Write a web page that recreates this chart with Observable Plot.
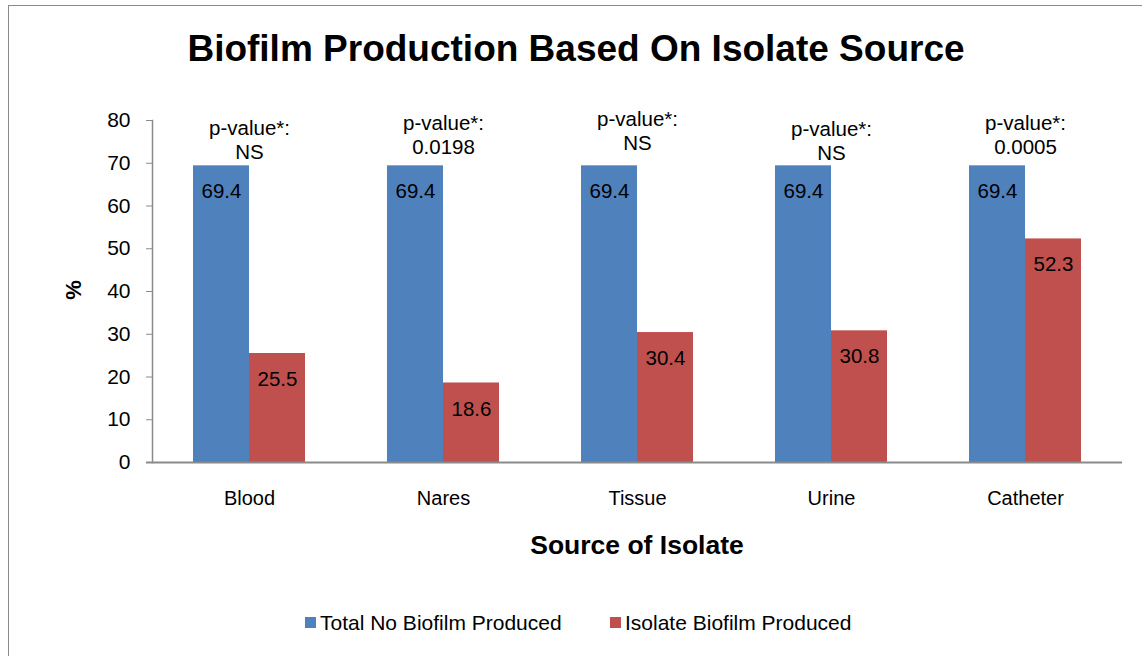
<!DOCTYPE html>
<html><head><meta charset="utf-8">
<script src="https://cdn.jsdelivr.net/npm/d3@7"></script>
<script src="https://cdn.jsdelivr.net/npm/@observablehq/plot@0.6"></script>
<style>
body{margin:0;background:#fff;font-family:"Liberation Sans",Arial,sans-serif;color:#000;width:1142px;height:656px;overflow:hidden;position:relative;}
#frame{position:absolute;left:8px;top:5px;width:1150px;height:670px;border:1.5px solid #8a8a8a;box-sizing:border-box;}
#title{position:absolute;left:8px;width:1136px;top:30px;text-align:center;font-weight:bold;font-size:37px;line-height:37px;white-space:nowrap;}
#chart{position:absolute;left:0;top:100px;}
#xtitle{position:absolute;left:437px;width:400px;top:532px;text-align:center;font-weight:bold;font-size:26.5px;line-height:26.5px;}
#ytitle{position:absolute;left:44px;width:60px;top:279px;text-align:center;font-weight:bold;font-size:22px;line-height:22px;transform:rotate(-90deg);}
.leg{position:absolute;top:612px;font-size:21px;line-height:21px;white-space:nowrap;}
.sw{position:absolute;width:11px;height:11px;top:617px;}
</style></head><body>
<div id="frame"></div>
<div id="title">Biofilm Production Based On Isolate Source</div>
<div id="chart"></div>
<div id="xtitle">Source of Isolate</div>
<div id="ytitle">%</div>
<div id="legend"></div>
<script>
const categories = ["Blood", "Nares", "Tissue", "Urine", "Catheter"];
const seriesNames = ["Total No Biofilm Produced", "Isolate Biofilm Produced"];
const noBiofilm = [69.4, 69.4, 69.4, 69.4, 69.4];
const biofilm = [25.5, 18.6, 30.4, 30.8, 52.3];
const pValues = ["NS", "0.0198", "NS", "NS", "0.0005"];
const yTicks = [0, 10, 20, 30, 40, 50, 60, 70, 80];
const seriesColors = ["#4F81BD", "#C0504D"];

// annotation placement (data units) for the p-value labels
const pLabelY = [75.6, 76.7, 77.7, 75.4, 76.7];

const rowsA = categories.map((c, i) => ({category: c, series: seriesNames[0], value: noBiofilm[i]}));
const rowsB = categories.map((c, i) => ({category: c, series: seriesNames[1], value: biofilm[i]}));
const pRows = categories.map((c, i) => ({category: c, text: "p-value*:\n" + pValues[i], y: pLabelY[i]}));

const font = "'Liberation Sans', Arial, sans-serif";

const chart = Plot.plot({
  width: 1142,
  height: 462,
  marginTop: 20,
  marginBottom: 100,
  marginLeft: 152,
  marginRight: 20,
  style: {fontFamily: font, background: "transparent", color: "#000", overflow: "visible"},
  x: {domain: categories, padding: 0, label: null},
  y: {domain: [0, 80], label: null},
  color: {domain: seriesNames, range: seriesColors},
  marks: [
    Plot.barY(rowsA, {x: "category", y: "value", fill: "series", insetLeft: 41, insetRight: 97}),
    Plot.barY(rowsB, {x: "category", y: "value", fill: "series", insetLeft: 97, insetRight: 41}),
    Plot.text(rowsA, {x: "category", y: "value", text: d => d.value.toFixed(1), dx: -28, dy: 26, fontSize: 20.5, fill: "#000"}),
    Plot.text(rowsB, {x: "category", y: "value", text: d => d.value.toFixed(1), dx: 28, dy: 26, fontSize: 20.5, fill: "#000"}),
    Plot.text(pRows, {x: "category", y: "y", text: "text", fontSize: 20.5, lineHeight: 1.17, fill: "#000"}),
    Plot.axisY({ticks: yTicks, tickSize: 6, tickPadding: 16, fontSize: 21, stroke: "#8a8a8a", fill: "#000", label: null}),
    Plot.frame({anchor: "left", stroke: "#8a8a8a", strokeWidth: 1.5}),
    Plot.ruleY([0], {stroke: "#8a8a8a", strokeWidth: 2, insetLeft: -6}),
    Plot.axisX({tickSize: 0, tickPadding: 28, fontSize: 20, fill: "#000", label: null})
  ]
});
document.getElementById("chart").appendChild(chart);

// legend
const leg = document.getElementById("legend");
const legX = [305, 610];
seriesNames.forEach((name, i) => {
  const sw = document.createElement("div");
  sw.className = "sw";
  sw.style.left = legX[i] + "px";
  sw.style.background = seriesColors[i];
  leg.appendChild(sw);
  const t = document.createElement("div");
  t.className = "leg";
  t.style.left = (legX[i] + 15) + "px";
  t.textContent = name;
  leg.appendChild(t);
});
</script>
</body></html>
